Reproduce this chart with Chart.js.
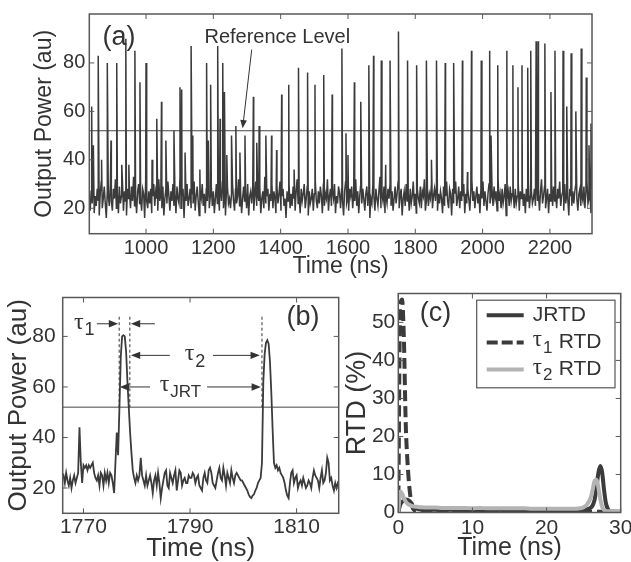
<!DOCTYPE html>
<html>
<head>
<meta charset="utf-8">
<script src="https://cdn.jsdelivr.net/npm/chart.js@4.4.0/dist/chart.umd.min.js"></script>
<style>
  html, body { margin: 0; padding: 0; background: #fff; overflow: hidden; width: 631px; height: 562px; }
  canvas { position: absolute; }
</style>
</head>
<body>
<canvas id="chartA" width="631" height="285" style="left:0;top:0"></canvas>
<canvas id="chartB" width="345" height="282" style="left:0;top:280px"></canvas>
<canvas id="chartC" width="310" height="282" style="left:340px;top:280px"></canvas>
<script>
// ---- (a) long trace: noise floor every 3 ns + pulse peaks
const tStartA = 831
const tStepA = 3
const baseA = [
  24,19,27,22,30,18,25,21,28,23,17,26,31,20,24,29,22,16,27,25,
  21,30,23,19,28,24,32,20,26,18,29,22,25,31,19,27,23,17,28,24,
  26,20,29,23,33,21,25,18,27,30,22,24,19,28,26,16,31,23,20,27,
  22,28,18,25,30,21,27,24,19,32,23,26,20,29,17,24,28,22,31,25,
  19,27,23,30,21,26,18,29,24,22,33,20,25,28,16,27,23,30,21,24,
  28,20,26,22,31,19,25,29,23,17,27,24,30,21,26,18,28,23,32,20,
  25,29,21,27,18,24,30,22,26,19,28,23,31,20,25,17,27,29,22,24,
  20,26,30,23,19,28,22,25,32,21,27,18,24,29,23,26,20,30,17,25,
  27,22,28,19,25,31,21,26,23,29,18,24,27,20,33,22,25,28,19,26,
  23,30,20,27,24,18,29,22,26,31,19,25,28,21,24,16,27,23,30,20,
  26,21,29,24,19,27,32,22,25,18,28,23,26,30,20,24,29,17,27,22,
  24,28,19,26,31,23,20,27,22,29,25,18,30,21,26,24,32,19,25,28,
  21,27,24,30,18,25,22,29,26,20,28,23,17,27,31,22,24,19,28,25,
  29,20,26,23,32,21,27,18,25,30,22,28,24,19,26,29,21,27,16,24,
  22,30,25,19,28,24,21,27,33,20,26,23,29,18,25,22,28,24,30,21,
  27,19,24,29,22,26,31,20,25,28,17,24,27,21,30,23,26,19,28,22,
  25,31,21,26,18,28,24,22,29,20,27,25,32,19,23,28,21,26,24,30,
  20,25,28,23,30,19,26,22,27,24,18,29,21,25,31,23,20,28,26,17,
  28,22,26,31,21,24,29,20,27,23,25,30,18,26,22,28,24,19,27,32,
  23,27,20,25,29,22,26,18,28,24,31,21,27,23,19,26,30,22,25,28,
  21,29,24,27,19,32,23,26,20,28,22,25,30,17,24,27,21,29,23,26,
  26,20,28,22,25,30,19,27,24,29,21,26,18,28,23,31,20,25,27,22,
  24,28,21,30,23,26,19,27,32,22,25,29,20,24,28,18,26,23,30,21,
  29,23,26,20,28,24,31,21,25,27,19,30,22,26,24,17,28,25,21,27,
  22,27,30,24,19,26,28,21,25,23,29,20,27,31,22,24,26,18,28,25
]
const spikeTimesA = [838.6,843.5,858,868,885,896,913,928,940,949,967,982,1000,1018,1032,1046,1059,1083,1101,1106,
  1116,1134,1139,1160,1180,1185,1192,1213,1220,1228,1233,1240,1254,1267,1279,1294,1319,1329,1336,1356,
  1373,1388,1403,1424,1440,1453,1480,1502,1528,1553,1582,1594,1600,1619,1638,1662,1676,1699,1712,1725,
  1750,1777,1804,1833,1848,1863,1889,1914,1940,1955,1967,1996,2021,2025,2045,2072,2090,2105,2117,2134,
  2143,2159,2165,2185,2203,2215,2239,2250,2263,2277,2293,2308,2316,2322]
const spikePeaksA = [62,46,83,40,80,48,80,38,90,38,85,72,80,40,57,64,48,52,70,69,
  43,87,50,36,80,48,71,87,57,80,68,42,50,54,43,50,66,47,54,50,
  50,44,67,71,36,78,76,71,75,67,86,51,42,72,64,79,83,81,38,81,
  93,81,79,81,40,81,80,80,81,35,85,81,85,50,79,85,79,70,79,78,
  85,89,89,88,68,85,85,62,84,60,86,74,46,55]
const refLevel = 52
const xTicksA = [1000,1200,1400,1600,1800,2000,2200]
const yTicksA = [20,40,60,80]

// ---- (b) close-up, one sample every 0.25 ns from 1766 ns
const tStartB = 1766
const tStepB = 0.25
const powerB = [
  24,25,22,26,23,21,24,20,23,25,22,24,26,44,30,22,
  29,28,29,27,29,28,29,30,26,24,23,25,21,26,25,21,
  26,23,26,22,26,25,22,18,30,42,33,52,72,80,80.5,80,
  74,62,52,42,34,27,24,22,25,23,25,32,25,23,21,25,
  21,23,25,22,18,23,25,21,26,22,16,20,23,26,27,21,
  20,26,24,22,25,27,19,23,27,26,21,23,24,22,22,25,
  24,24,26,25,22,24,25,21,20,19,24,26,23,22,27,28,
  26,22,21,20,23,26,28,24,23,28,25,21,26,24,22,27,
  24,22,25,26,25,24,23,23,22,21,20,19,17.5,16.5,16,17,
  17.5,19,20,22,23,24,30,62,73,77.5,78.5,77,70,58,43,30,
  28,29,27,28,26,25,24,22,19,17,16,22,26,27,22,24,
  25,20,22,23,21,24,22,20,21,23,22,20,24,27,25,24,
  23,20,24,27,22,23,26,32,30,23,24,21,19,22,20,22,21
]
const xTicksB = [1770,1790,1810]
const yTicksB = [20,40,60,80]
const markTimesB = [1776.7, 1778.7, 1803.5]

// ---- (c) return time distributions
const timeC = [0,0.25,0.5,0.75,1,1.25,1.5,1.75,2,2.5,3,4,5,6,7,8,9,10,11,12,13,14,15,16,17,18,19,20,21,22,23,24,
  24.5,25,25.5,26,26.25,26.5,26.75,27,27.25,27.5,27.75,28,28.25,28.5,29,29.5,30]
const jrtd = [0,2,2.8,3.2,3.4,3.3,3,2.4,1.6,1,0.8,
  0.7,0.7,0.6,0.7,0.6,0.6,0.7,0.6,0.6,0.6,0.7,0.6,0.6,0.6,0.6,0.6,0.6,0.6,0.6,0.6,0.6,
  0.6,0.7,0.9,1.3,2,3.5,7,10.5,12.2,10.5,6,2.5,1,0.4,0.2,0.1,0.1]
const tau1Rtd = [0,54,56,46,23.5,13,6.5,2.7,1,0.4,0.3,
  0.2,0.2,0.2,0.2,0.2,0.2,0.2,0.2,0.2,0.2,0.2,0.2,0.2,0.2,0.2,0.2,0.2,0.2,0.2,0.2,0.2,
  0.2,0.2,0.2,0.2,0.2,0.2,0.2,0.2,0.2,0.2,0.2,0.2,0.2,0.2,0.2,0.2,0.2]
const tau2Rtd = [0,5.5,5,3.8,2.9,2.3,2,1.8,1.6,1.5,1.4,
  1.3,1.3,1.2,1.2,1.2,1.2,1.1,1.2,1.1,1.1,1.1,1.1,1.1,1.1,1,1,1,1,1,1,1,
  1.1,1.4,2.2,4.2,6.3,8.4,8.6,6.5,3.5,1.5,0.7,0.4,0.3,0.3,0.3,0.3,0.3]
const xTicksC = [0,10,20,30]
const yTicksC = [0,10,20,30,40,50]

const FONT = '"Liberation Sans", Arial, Helvetica, sans-serif'
const TXT = '#333'
Chart.defaults.font.family = FONT
Chart.defaults.color = TXT

function linAxis(min, max, ticks, title, o) {
  return {
    type: 'linear', min: min, max: max,
    afterBuildTicks: s => { s.ticks = ticks.map(v => ({ value: v })) },
    afterFit: s => { if (s.isHorizontal()) s.height = o.size; else s.width = o.size },
    grid: { display: false, drawTicks: false },
    border: { display: false },
    ticks: { padding: o.pad, autoSkip: false, maxRotation: 0, color: TXT,
      font: { size: o.tickSize, lineHeight: 1 }, callback: v => String(v) },
    title: { display: true, text: title, color: TXT,
      font: { size: o.titleSize, lineHeight: 1 }, padding: { top: o.titlePad, bottom: o.titlePad } }
  }
}

// matlab style box with ticks pointing inwards on all four sides
const boxPlugin = {
  id: 'box',
  afterDatasetsDraw(chart) {
    const { ctx, chartArea: a, scales: { x, y } } = chart
    ctx.save()
    ctx.strokeStyle = '#585858'
    ctx.lineWidth = 1
    ctx.beginPath()
    x.ticks.forEach(t => {
      const px = x.getPixelForValue(t.value)
      ctx.moveTo(px, a.bottom); ctx.lineTo(px, a.bottom - 5)
      ctx.moveTo(px, a.top); ctx.lineTo(px, a.top + 5)
    })
    y.ticks.forEach(t => {
      const py = y.getPixelForValue(t.value)
      ctx.moveTo(a.left, py); ctx.lineTo(a.left + 5, py)
      ctx.moveTo(a.right, py); ctx.lineTo(a.right - 5, py)
    })
    ctx.stroke()
    ctx.lineWidth = 1.5
    ctx.strokeRect(a.left, a.top, a.right - a.left, a.bottom - a.top)
    ctx.restore()
  }
}

function arrow(ctx, x1, y1, x2, y2, size) {
  const ang = Math.atan2(y2 - y1, x2 - x1)
  ctx.beginPath()
  ctx.moveTo(x1, y1)
  ctx.lineTo(x2 - Math.cos(ang) * size * 0.7, y2 - Math.sin(ang) * size * 0.7)
  ctx.stroke()
  ctx.beginPath()
  ctx.moveTo(x2, y2)
  ctx.lineTo(x2 - size * Math.cos(ang - 0.38), y2 - size * Math.sin(ang - 0.38))
  ctx.lineTo(x2 - size * Math.cos(ang + 0.38), y2 - size * Math.sin(ang + 0.38))
  ctx.closePath()
  ctx.fill()
}

function tauLabel(ctx, px, py, sub, size, subSize) {
  ctx.textAlign = 'left'
  ctx.textBaseline = 'middle'
  ctx.font = size + 'px "Liberation Serif", "Times New Roman", serif'
  ctx.fillText('\u03c4', px, py)
  const w = ctx.measureText('\u03c4').width
  ctx.font = subSize + 'px ' + FONT
  ctx.fillText(sub, px + w + 1, py + 8)
}

const baseOpts = {
  responsive: false, animation: false, events: [],
  plugins: { legend: { display: false }, tooltip: { enabled: false } }
}

// ---- panel (a)
const pointsA = baseA.map((v, i) => ({ x: tStartA + i * tStepA, y: v }))
spikeTimesA.forEach((t, k) => pointsA.push({ x: t, y: spikePeaksA[k] }))
pointsA.sort((p, q) => p.x - q.x)

const minA = 831.5, maxA = 2325
new Chart(document.getElementById('chartA'), {
  type: 'line',
  data: { datasets: [
    { data: pointsA, borderColor: '#3b3b3b', borderWidth: 1.5, pointRadius: 0, tension: 0 },
    { data: [{ x: minA, y: refLevel }, { x: maxA, y: refLevel }], borderColor: '#444', borderWidth: 1, pointRadius: 0 }
  ] },
  options: Object.assign({}, baseOpts, {
    layout: { padding: { top: 6, right: 39, left: 0, bottom: 0 } },
    scales: {
      x: linAxis(minA, maxA, xTicksA, 'Time (ns)', { size: 51.3, pad: 5, tickSize: 20, titleSize: 23, titlePad: 7 }),
      y: linAxis(9.5, 100.2, yTicksA, 'Output Power (au)', { size: 89.3, pad: 4, tickSize: 20, titleSize: 23, titlePad: 33 })
    }
  }),
  plugins: [boxPlugin, {
    id: 'annotA',
    afterDatasetsDraw(chart) {
      const { ctx, scales: { x, y } } = chart
      ctx.save()
      ctx.fillStyle = TXT
      ctx.strokeStyle = '#333'
      ctx.textBaseline = 'middle'
      ctx.font = '27px ' + FONT
      ctx.fillText('(a)', x.getPixelForValue(871), y.getPixelForValue(90.6))
      ctx.font = '20px ' + FONT
      ctx.textAlign = 'center'
      ctx.fillText('Reference Level', x.getPixelForValue(1390), y.getPixelForValue(90.6))
      ctx.lineWidth = 1
      arrow(ctx, x.getPixelForValue(1314), y.getPixelForValue(85.5), x.getPixelForValue(1287), y.getPixelForValue(53), 9)
      ctx.restore()
    }
  }]
})

// ---- panel (b)
const pointsB = powerB.map((v, i) => ({ x: tStartB + i * tStepB, y: v }))
const minB = 1766.1, maxB = 1817.9
new Chart(document.getElementById('chartB'), {
  type: 'line',
  data: { datasets: [
    { data: pointsB, borderColor: '#3b3b3b', borderWidth: 1.8, pointRadius: 0, tension: 0 },
    { data: [{ x: minB, y: refLevel }, { x: maxB, y: refLevel }], borderColor: '#444', borderWidth: 1, pointRadius: 0 }
  ] },
  options: Object.assign({}, baseOpts, {
    layout: { padding: { top: 5.7, right: 6.3, left: 0, bottom: 0 } },
    scales: {
      x: linAxis(minB, maxB, xTicksB, 'Time (ns)', { size: 48.7, pad: 3, tickSize: 21, titleSize: 26, titlePad: 0 }),
      y: linAxis(10, 95.4, yTicksB, 'Output Power (au)', { size: 62.7, pad: 7, tickSize: 21, titleSize: 26, titlePad: 6 })
    }
  }),
  plugins: [boxPlugin, {
    id: 'annotB',
    afterDatasetsDraw(chart) {
      const { ctx, scales: { x, y } } = chart
      const X = v => x.getPixelForValue(v), Y = v => y.getPixelForValue(v)
      ctx.save()
      ctx.strokeStyle = '#333'
      ctx.fillStyle = TXT
      ctx.lineWidth = 1
      ctx.setLineDash([3, 2.5])
      ctx.beginPath()
      markTimesB.forEach(t => { ctx.moveTo(X(t), Y(87.8)); ctx.lineTo(X(t), Y(refLevel)) })
      ctx.stroke()
      ctx.setLineDash([])
      arrow(ctx, X(1772.5), Y(85), X(1776.5), Y(85), 10)
      arrow(ctx, X(1783.4), Y(85), X(1778.9), Y(85), 10)
      arrow(ctx, X(1786.2), Y(72.5), X(1778.9), Y(72.5), 10)
      arrow(ctx, X(1794.3), Y(72.5), X(1803.1), Y(72.5), 10)
      arrow(ctx, X(1782.5), Y(60), X(1776.8), Y(60), 10)
      arrow(ctx, X(1793.2), Y(60), X(1803.3), Y(60), 10)
      tauLabel(ctx, X(1768.2), Y(85.5), '1', 24, 18)
      tauLabel(ctx, X(1789.0), Y(73), '2', 24, 18)
      tauLabel(ctx, X(1784.3), Y(61), 'JRT', 24, 17)
      ctx.font = '27px ' + FONT
      ctx.textBaseline = 'middle'
      ctx.fillText('(b)', X(1808.1), Y(87.4))
      ctx.restore()
    }
  }]
})

// ---- panel (c)
const toXY = arr => arr.map((v, i) => ({ x: timeC[i], y: v }))
new Chart(document.getElementById('chartC'), {
  type: 'line',
  data: { datasets: [
    { label: 'tau2', data: toXY(tau2Rtd), borderColor: '#b3b3b3', borderWidth: 4, pointRadius: 0, cubicInterpolationMode: 'monotone', order: 0 },
    { label: 'JRTD', data: toXY(jrtd), borderColor: '#3b3b3b', borderWidth: 4, pointRadius: 0, cubicInterpolationMode: 'monotone', order: 1 },
    { label: 'tau1', data: toXY(tau1Rtd), borderColor: '#3b3b3b', borderWidth: 4, borderDash: [11, 5], pointRadius: 0, cubicInterpolationMode: 'monotone', order: 2 }
  ] },
  options: Object.assign({}, baseOpts, {
    layout: { padding: { top: 5, right: 29.3, left: 0, bottom: 0 } },
    scales: {
      x: linAxis(0, 30, xTicksC, 'Time (ns)', { size: 49.5, pad: 5, tickSize: 21, titleSize: 25, titlePad: 1.5 }),
      y: linAxis(0, 57.6, yTicksC, 'RTD (%)', { size: 58.3, pad: 3, tickSize: 21, titleSize: 27, titlePad: 4 })
    }
  }),
  plugins: [boxPlugin, {
    id: 'annotC',
    afterDatasetsDraw(chart) {
      const { ctx, chartArea: a, scales: { x, y } } = chart
      ctx.save()
      ctx.fillStyle = TXT
      ctx.font = '27px ' + FONT
      ctx.textBaseline = 'middle'
      ctx.fillText('(c)', x.getPixelForValue(2.9), y.getPixelForValue(52.3))
      // legend box
      const bx = a.right - 144, by = a.top + 6.7
      ctx.fillStyle = '#fff'
      ctx.fillRect(bx, by, 138.3, 87.6)
      ctx.strokeStyle = '#555'
      ctx.lineWidth = 1.2
      ctx.strokeRect(bx, by, 138.3, 87.6)
      const rows = [
        { color: '#3b3b3b', dash: [], name: 'JRTD' },
        { color: '#3b3b3b', dash: [11, 4], tau: '1' },
        { color: '#b3b3b3', dash: [], tau: '2' }
      ]
      rows.forEach((r, i) => {
        const ry = by + 15 + i * 27.2
        ctx.strokeStyle = r.color
        ctx.lineWidth = 4
        ctx.setLineDash(r.dash)
        ctx.beginPath(); ctx.moveTo(bx + 10, ry); ctx.lineTo(bx + 47, ry); ctx.stroke()
        ctx.setLineDash([])
        ctx.fillStyle = TXT
        const tx = bx + 56
        if (r.name) {
          ctx.font = '21px ' + FONT
          ctx.textAlign = 'left'
          ctx.textBaseline = 'middle'
          ctx.fillText(r.name, tx, ry)
        } else {
          tauLabel(ctx, tx, ry - 2, r.tau, 23, 17)
          ctx.font = '21px ' + FONT
          ctx.textBaseline = 'middle'
          ctx.fillText('RTD', tx + 26, ry)
        }
      })
      ctx.restore()
    }
  }]
})
</script>
</body>
</html>
